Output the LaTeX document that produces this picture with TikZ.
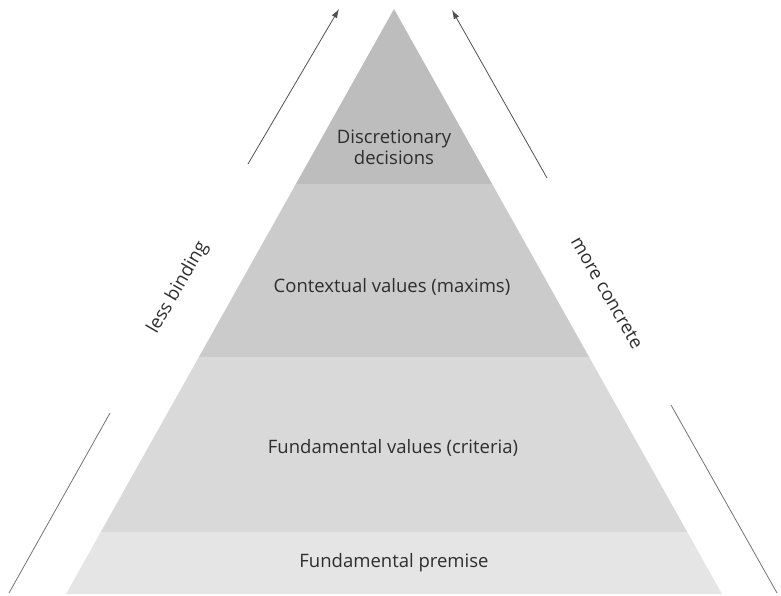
\documentclass[tikz,border=0pt]{standalone}
\usepackage{fontspec}
\setmainfont{Open Sans}
\usetikzlibrary{arrows.meta}
\definecolor{bandA}{HTML}{BDBDBD}
\definecolor{bandB}{HTML}{CBCBCB}
\definecolor{bandC}{HTML}{D9D9D9}
\definecolor{bandD}{HTML}{E5E5E5}
\definecolor{inkgray}{HTML}{2E2E2E}
\definecolor{linegray}{HTML}{505050}
\tikzset{
  label/.style={font=\fontsize{18.5}{21}\selectfont, text=inkgray, align=center, inner sep=0pt},
  sidelabel/.style={label},
  trend/.style={draw=linegray, line width=0.8pt, -{Latex[length=9pt,width=6pt]}},
  plainline/.style={draw=linegray!80, line width=0.8pt},
}
\begin{document}
\begin{tikzpicture}[x=1pt,y=-1pt]
  \useasboundingbox (0,0) rectangle (781,596);
  % pyramid outline
  \coordinate (apex) at (394,9);
  \coordinate (baseL) at (66,594);
  \coordinate (baseR) at (722,594);
  \begin{scope}
    \clip (apex) -- (baseR) -- (baseL) -- cycle;
    \fill[bandA] (0,0) rectangle (781,184);
    \fill[bandB] (0,184) rectangle (781,357);
    \fill[bandC] (0,357) rectangle (781,532);
    \fill[bandD] (0,532) rectangle (781,596);
  \end{scope}
  % level labels
  \node[label] (disc) at (394,147) {Discretionary\\decisions};
  \node[label] (ctx) at (392,287) {Contextual values (maxims)};
  \node[label] (fund) at (393,448) {Fundamental values (criteria)};
  \node[label] (prem) at (394,563) {Fundamental premise};
  % side trends
  \coordinate (la0) at (248,164);
  \coordinate (la1) at (339,9);
  \coordinate (ra0) at (547,178);
  \coordinate (ra1) at (452,10);
  \coordinate (ll0) at (110,413);
  \coordinate (ll1) at (9,593);
  \coordinate (rl0) at (671,405);
  \coordinate (rl1) at (777,593);
  \draw[trend] (la0) -- (la1);
  \draw[trend] (ra0) -- (ra1);
  \draw[plainline] (ll0) -- (ll1);
  \draw[plainline] (rl0) -- (rl1);
  \node[sidelabel, rotate=60] (less) at (178,288) {less binding};
  \node[sidelabel, rotate=-60] (more) at (607,293) {more concrete};
\end{tikzpicture}
\end{document}
